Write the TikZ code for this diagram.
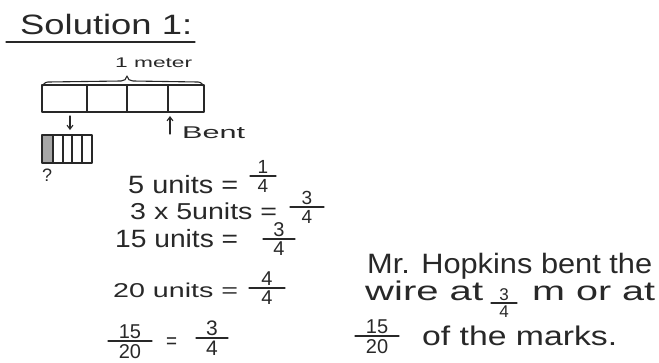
\documentclass[tikz,border=0pt]{standalone}
\usepackage{fontspec}
\usepackage{graphicx}
\setmainfont{Liberation Sans}
\usetikzlibrary{arrows.meta}
\definecolor{ink}{RGB}{40,40,40}
\newcommand\txt[6]{\node[txtnode] (#1) at (#2,#3) {\resizebox{#4pt}{\height}{\fontsize{#5}{#5}\selectfont #6}};}
% name, x, line y, half width, num, den, size
\newcommand\frc[7]{%
  \draw[inkline] (#2-#4,#3) -- (#2+#4,#3);
  \node[fracnum] (#1n) at (#2,#3-3) {\fontsize{#7}{#7}\selectfont #5};
  \node[fracden] (#1d) at (#2,#3+3) {\fontsize{#7}{#7}\selectfont #6};}
\begin{document}
\begin{tikzpicture}[x=1pt,y=-1pt,
  txtnode/.style={inner sep=0pt,anchor=base west,text=ink},
  fracnum/.style={inner sep=0pt,anchor=base,text=ink},
  fracden/.style={inner sep=0pt,anchor=north,text=ink},
  inkline/.style={draw=ink,line width=1.1pt,line cap=round,line join=round},
  arr/.style={inkline,-{Straight Barb[length=4pt,width=6pt]}}]
\useasboundingbox (0,0) rectangle (659,362);
% title
\txt{sol}{20}{34}{172}{28}{Solution 1:}
\draw[inkline] (6,42) -- (195,42);
% 1 meter brace
\txt{meter}{115}{67}{77}{14}{1 meter}
\draw[inkline] (42,89) to[out=90,in=180] (48,82) -- (121,81) to[out=0,in=-90] (127,76)
  to[out=-90,in=180] (133,81) -- (198,82) to[out=0,in=90] (204,89);
% wire bar
\draw[inkline] (42,85) rectangle (204,112);
\draw[inkline] (87,85) -- (87,112) (127,85) -- (127,112) (168,85) -- (168,112);
\coordinate (da1) at (70,116); \coordinate (da2) at (70,130);
\draw[arr] (da1) -- (da2);
\coordinate (ua1) at (170,134); \coordinate (ua2) at (170,116);
\draw[arr] (ua1) -- (ua2);
\txt{bent}{182}{138}{63}{17}{Bent}
% small bar
\fill[gray!70] (42,135) rectangle (53,163);
\draw[inkline] (42,135) rectangle (92,163);
\draw[inkline] (53,135) -- (53,163) (63,135) -- (63,163) (72,135) -- (72,163) (82,135) -- (82,163);
\txt{q}{42}{181}{10}{18}{?}
% equations
\txt{l1}{128}{193}{110}{25}{5 units =}
\frc{f1}{263}{176}{13}{1}{4}{19}
\txt{l2}{130}{219}{147}{23}{3 x 5units =}
\frc{f2}{307}{207}{17}{3}{4}{19}
\txt{l3}{115}{247}{123}{25}{15 units =}
\frc{f3}{279}{239}{16}{3}{4}{20}
\txt{l4}{113}{297}{125}{20}{20 units =}
\frc{f4}{267}{288}{18}{4}{4}{20}
\frc{f5}{130}{341}{22}{15}{20}{20}
\txt{l5}{166}{348}{11}{22}{=}
\frc{f6}{212}{338}{16}{3}{4}{21}
% conclusion
\txt{r1}{367}{273}{285}{28}{Mr. Hopkins bent the}
\txt{r2a}{365}{300}{118}{27}{wire at}
\frc{f7}{504}{303}{13}{3}{4}{17}
\txt{r2b}{532}{300}{123}{27}{m or at}
\frc{f8}{377}{336}{22}{15}{20}{20}
\txt{r3}{422}{345}{195}{27}{of the marks.}
\end{tikzpicture}
\end{document}
